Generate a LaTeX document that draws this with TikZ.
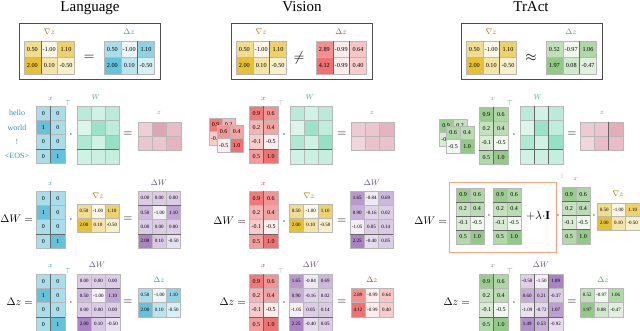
\documentclass[tikz,border=0pt]{standalone}
\usepackage{amsmath,amssymb}
\usepackage{fontspec}
\setmainfont{Liberation Serif}
\usepackage{xcolor}

\definecolor{gradC}{RGB}{229,190,46}
\definecolor{langC}{RGB}{93,191,216}
\definecolor{visC}{RGB}{238,106,106}
\definecolor{actC}{RGB}{140,198,128}
\definecolor{wC}{RGB}{125,218,185}
\definecolor{zC}{RGB}{217,138,156}
\definecolor{dwC}{RGB}{165,125,192}
\definecolor{boxC}{RGB}{240,165,125}
\definecolor{gradL}{RGB}{160,130,30}
\definecolor{langL}{RGB}{50,150,180}
\definecolor{visL}{RGB}{170,60,60}
\definecolor{actL}{RGB}{100,150,105}
\definecolor{wL}{RGB}{60,170,140}
\definecolor{zL}{RGB}{150,125,130}
\definecolor{dwL}{RGB}{100,80,120}

\tikzset{
  cell/.style={draw=white!72!black, line width=0.3pt},
  cellnum/.style={inner sep=0pt, font=\cellfont},
  sep/.style={draw=black!60, line width=0.6pt},
  frame/.style={draw=black!70, line width=0.8pt},
  obox/.style={draw=boxC, line width=0.9pt},
  title/.style={inner sep=0pt, anchor=base, font=\fontsize{15}{18}\selectfont},
  lbl/.style={inner sep=0pt, font=\fontsize{7}{8}\selectfont},
  biglbl/.style={inner sep=0pt, font=\fontsize{8.5}{10}\selectfont},
  op/.style={inner sep=0pt, font=\fontsize{12}{14}\selectfont},
  lhs/.style={inner sep=0pt, anchor=east, font=\fontsize{11}{13}\selectfont},
  bigop/.style={inner sep=0pt, font=\fontsize{15}{18}\selectfont},
  word/.style={inner sep=0pt, text=langL, font=\fontsize{8}{9}\selectfont}
}

% the numbers
\def\gradz{{0.50,-1.00,1.10},{2.00,0.10,-0.50}}
\def\visdz{{2.89,-0.99,0.64},{4.12,-0.99,0.40}}
\def\actdz{{0.52,-0.97,1.06},{1.97,0.08,-0.47}}
\def\langx{{0,0},{1,0},{0,0},{0,1}}
\def\visx{{0.9,0.6},{0.2,0.4},{-0.1,-0.5},{0.5,1.0}}
\def\patchA{{0.9,0.2},{-0.1,0.5}}
\def\patchB{{0.6,0.4},{-0.5,1.0}}
\def\langW{{0.5,0.3,0.5},{0.2,0.8,0.45},{0.6,0.3,0.85},{0.3,0.35,0.4}}
\def\langz{{0.35,0.8,0.55},{0.45,0.45,0.65}}
\def\visz{{0.4,0.45,0.65},{0.3,0.5,0.5}}
\def\actz{{0.4,0.45,0.7},{0.3,0.55,0.55}}
\def\langdW{{0.00,0.00,0.00},{0.50,-1.00,1.10},{0.00,0.00,0.00},{2.00,0.10,-0.50}}
\def\visdW{{1.65,-0.84,0.69},{0.90,-0.16,0.02},{-1.05,0.05,0.14},{2.25,-0.40,0.05}}
\def\actdW{{-0.50,-1.50,1.89},{0.60,0.21,-0.37},{-1.09,-0.72,1.07},{1.49,0.53,-0.92}}

\newcounter{matno}
\newif\ifcellnum
\def\cellfont{\fontsize{5}{6}\selectfont}
% #1 top left, #2 cell width, #3 cell height, #4 colour, #5 lowest, #6 highest, #7 rows, #8 separators
\newcommand{\drawmat}[8]{%
  \stepcounter{matno}%
  \begin{scope}[shift={(#1)}]
    \def\cw{#2}\def\ch{#3}%
    \foreach \row [count=\i] in #7 {
      \foreach \v [count=\j] in \row {
        \pgfmathtruncatemacro\pct{12+83*(\v-(#5))/((#6)-(#5))}
        \path[cell, fill=#4!\pct!white] ({(\j-1)*\cw},{(\i-1)*\ch}) rectangle ++(\cw,\ch);
        \ifcellnum
          \node[cellnum] (m\thematno-\i-\j) at ({(\j-0.5)*\cw},{(\i-0.5)*\ch}) {\v};
        \fi
      }
    }
    #8
  \end{scope}}
\newcommand{\vsep}[2]{\draw[sep] ({#1*\cw},0) -- ({#1*\cw},{#2*\ch});}
\newcommand{\hsep}[2]{\draw[sep] (0,{#1*\ch}) -- ({#2*\cw},{#1*\ch});}

\begin{document}
\begin{tikzpicture}[x=1pt,y=-1pt]
\useasboundingbox (0,0) rectangle (640,331);

% titles
\node[title] (tlang) at (90,12) {Language};
\node[title] (tvis) at (302,12) {Vision};
\node[title] (tact) at (531,12) {TrAct};

% top boxes
\draw[frame] (19,23) rectangle (160,79);
\draw[frame] (231,23) rectangle (372,79);
\draw[frame] (461,23) rectangle (602,79);
\cellnumtrue
\def\cellfont{\fontsize{6.2}{7}\selectfont}
\drawmat{24,41}{16.8}{16.5}{gradC}{-1}{2}{\gradz}{\vsep{1}{2}}
\drawmat{104,41}{16.8}{16.5}{langC}{-1}{2}{\gradz}{\vsep{2}{2}}
\drawmat{236,41}{16.8}{16.5}{gradC}{-1}{2}{\gradz}{\vsep{2}{2}}
\drawmat{316,41}{16.8}{16.5}{visC}{-0.99}{4.12}{\visdz}{\vsep{1}{2}\vsep{2}{2}}
\drawmat{466,41}{16.8}{16.5}{gradC}{-1}{2}{\gradz}{\vsep{2}{2}}
\drawmat{546,41}{16.8}{16.5}{actC}{-0.97}{1.97}{\actdz}{\vsep{2}{2}}
\node[biglbl, text=gradL] (lgz0) at (49.5,32) {$\nabla z$};
\node[biglbl, text=langL] (ldz0) at (129,32) {$\Delta z$};
\node[biglbl, text=gradL] (vgz0) at (261,32) {$\nabla z$};
\node[biglbl, text=visL] (vdz0) at (341,32) {$\Delta z$};
\node[biglbl, text=gradL] (agz0) at (491,32) {$\nabla z$};
\node[biglbl, text=actL] (adz0) at (571,32) {$\Delta z$};
\node[bigop] (leq0) at (89,58) {$=$};
\node[bigop] (vneq0) at (299,58) {$\neq$};
\node[bigop] (aeq0) at (531,58) {$\approx$};

% forward pass, language
\foreach \w [count=\k] in {hello,world,!,<EOS>}
  \node[word] (w\k) at (17,{106+14.3*(\k-0.5)}) {\w};
\def\cellfont{\fontsize{6}{7}\selectfont}
\drawmat{36,106}{14.5}{14.3}{langC}{-1}{1}{\langx}{\vsep{1}{4}\hsep{3}{2}}
\node[lbl, text=langL] (lx1) at (50.5,99) {$x$};
\node[lbl, text=langL] (lt1) at (68,103) {$\top$};
\node[op] (ld1) at (71,135) {$\cdot$};
\cellnumfalse
\drawmat{77,106}{14}{14.5}{wC}{0}{1}{\langW}{\hsep{3}{3}}
\node[lbl, text=wL] (lw1) at (96,97) {$W$};
\node[op] (le1) at (128,134) {$=$};
\drawmat{138,122}{14.3}{14}{zC}{0}{1}{\langz}{}
\node[lbl, text=zL] (lz1) at (159,113) {$z$};
\cellnumtrue

% forward pass, vision
\drawmat{209,118}{13}{13.5}{visC}{-0.5}{1}{\patchA}{}
\drawmat{217,125}{13}{13.5}{visC}{-0.5}{1}{\patchB}{}
\drawmat{249,106}{14.5}{14.3}{visC}{-0.5}{1}{\visx}{\vsep{1}{4}\hsep{3}{2}}
\node[lbl, text=visL] (vx1) at (263.5,99) {$x$};
\node[lbl, text=black!35] (vt1) at (281,103) {$\top$};
\node[op] (vd1) at (284,135) {$\cdot$};
\cellnumfalse
\drawmat{290,106}{14}{14.5}{wC}{0}{1}{\langW}{\hsep{3}{3}}
\node[lbl, text=wL] (vw1) at (310,97) {$W$};
\node[op] (ve1) at (342,134) {$=$};
\drawmat{351,122}{14.3}{14}{zC}{0}{1}{\visz}{}
\node[lbl, text=zL] (vz1) at (372,113) {$z$};
\cellnumtrue

% forward pass, TrAct
\drawmat{439,119}{14}{13.5}{actC}{-0.5}{1}{\patchA}{}
\drawmat{446,126}{14}{13.5}{actC}{-0.5}{1}{\patchB}{}
\drawmat{479,107}{14.5}{14.3}{actC}{-0.5}{1}{\visx}{\vsep{1}{4}\hsep{3}{2}}
\node[lbl, text=black!45] (ax1) at (493,99) {$x$};
\node[lbl, text=actL] (at1) at (510,103) {$\top$};
\node[op] (ad1) at (514,135) {$\cdot$};
\cellnumfalse
\drawmat{520,106}{14.3}{14.5}{wC}{0}{1}{\langW}{\vsep{1}{4}\vsep{2}{4}\hsep{3}{3}}
\node[lbl, text=wL] (aw1) at (538,97) {$W$};
\node[op] (ae1) at (572,134) {$=$};
\drawmat{580,122}{14.3}{14}{zC}{0}{1}{\actz}{\vsep{2}{2}}
\node[lbl, text=zL] (az1) at (602,113) {$z$};
\cellnumtrue

% weight update, language
\node[lhs] (ldw2) at (33,219) {$\Delta W\;{=}$};
\drawmat{36,191}{14.5}{14.3}{langC}{-1}{1}{\langx}{\vsep{1}{4}\hsep{3}{2}}
\node[lbl, text=langL] (lx2) at (50.5,184) {$x$};
\node[op] (ld2) at (71,220) {$\cdot$};
\def\cellfont{\fontsize{5}{6}\selectfont}
\drawmat{77,204}{14}{14}{gradC}{-1}{2}{\gradz}{}
\node[biglbl, text=gradL] (lg2) at (98,196) {$\nabla z$};
\node[op] (le2) at (128,219) {$=$};
\drawmat{138,191}{14.2}{14.3}{dwC}{-1}{2}{\langdW}{\hsep{1}{3}\hsep{3}{3}}
\node[biglbl, text=dwL] (lw2) at (159,183) {$\Delta W$};

% weight update, vision
\def\cellfont{\fontsize{6}{7}\selectfont}
\node[lhs] (vdw2) at (246,221) {$\Delta W\;{=}$};
\drawmat{249,191}{14.5}{14.3}{visC}{-0.5}{1}{\visx}{\vsep{1}{4}\hsep{3}{2}}
\node[lbl, text=visL] (vx2) at (263.5,184) {$x$};
\node[op] (vd2) at (284,222) {$\cdot$};
\def\cellfont{\fontsize{5}{6}\selectfont}
\drawmat{289,204}{14.5}{14}{gradC}{-1}{2}{\gradz}{}
\node[biglbl, text=gradL] (vg2) at (309,196) {$\nabla z$};
\node[op] (ve2) at (342,221) {$=$};
\drawmat{350,191}{14.3}{14.3}{dwC}{-1.05}{2.25}{\visdW}{\hsep{3}{3}}
\node[biglbl, text=dwL] (vw2) at (372,183) {$\Delta W$};

% weight update, TrAct
\def\cellfont{\fontsize{6}{7}\selectfont}
\node[lhs] (adw2) at (447,221) {$\Delta W\;{=}$};
\draw[obox] (449,182) rectangle (556,252);
\drawmat{456,188}{14}{14}{actC}{-0.5}{1}{\visx}{\hsep{1}{2}\hsep{2}{2}\hsep{3}{2}}
\node[op] (ad2) at (489,216) {$\cdot$};
\drawmat{493,188}{14}{14}{actC}{-0.5}{1}{\visx}{\hsep{1}{2}\hsep{2}{2}\hsep{3}{2}}
\node[lbl, text=black!30] (at2) at (525,185) {$\top$};
\node[op] (alam) at (538,216) {$+\lambda{\cdot}\mathbf{I}$};
\node[lbl, text=boxC] (ainv) at (562,176) {$1$};
\node[op] (ad3) at (558,216) {$\cdot$};
\drawmat{562,187}{14}{14.2}{actC}{-0.5}{1}{\visx}{\hsep{1}{2}\hsep{2}{2}\hsep{3}{2}}
\node[lbl, text=black!45] (ax2) at (576,179) {$x$};
\node[op] (ad4) at (594,216) {$\cdot$};
\def\cellfont{\fontsize{5}{6}\selectfont}
\drawmat{597,203}{14.3}{13.5}{gradC}{-1}{2}{\gradz}{}
\node[biglbl, text=gradL] (ag2) at (618,194) {$\nabla z$};

% new output, language
\def\cellfont{\fontsize{6}{7}\selectfont}
\node[lhs] (ldz3) at (33,302) {$\Delta z\;{=}$};
\drawmat{36,274}{14.5}{14.3}{langC}{-1}{1}{\langx}{\vsep{1}{4}\hsep{3}{2}}
\node[lbl, text=langL] (lx3) at (50.5,266) {$x$};
\node[lbl, text=langL] (lt3) at (68,271) {$\top$};
\node[op] (ld3) at (71,303) {$\cdot$};
\def\cellfont{\fontsize{5}{6}\selectfont}
\drawmat{77,274}{14.3}{14.3}{dwC}{-1}{2}{\langdW}{\hsep{1}{3}\hsep{3}{3}}
\node[biglbl, text=dwL] (lw3) at (97,265) {$\Delta W$};
\node[op] (le3) at (128,302) {$=$};
\drawmat{138,288}{14.2}{14.5}{langC}{-1}{2}{\gradz}{}
\node[biglbl, text=langL] (lz3) at (159,280) {$\Delta z$};

% new output, vision
\def\cellfont{\fontsize{6}{7}\selectfont}
\node[lhs] (vdz3) at (246,302) {$\Delta z\;{=}$};
\drawmat{249,274}{14.5}{14.3}{visC}{-0.5}{1}{\visx}{\vsep{1}{4}\hsep{3}{2}}
\node[lbl, text=visL] (vx3) at (263.5,266) {$x$};
\node[lbl, text=black!35] (vt3) at (281,271) {$\top$};
\node[op] (vd3) at (284,303) {$\cdot$};
\def\cellfont{\fontsize{5}{6}\selectfont}
\drawmat{289,274}{14.5}{14.3}{dwC}{-1.05}{2.25}{\visdW}{\hsep{3}{3}}
\node[biglbl, text=dwL] (vw3) at (311,265) {$\Delta W$};
\node[op] (ve3) at (342,302) {$=$};
\drawmat{351,288}{14.2}{14.5}{visC}{-0.99}{4.12}{\visdz}{}
\node[biglbl, text=visL] (vz3) at (372,280) {$\Delta z$};

% new output, TrAct
\def\cellfont{\fontsize{6}{7}\selectfont}
\node[lhs] (adz3) at (470,302) {$\Delta z\;{=}$};
\drawmat{479,274}{14.5}{14.3}{actC}{-0.5}{1}{\visx}{\vsep{1}{4}\hsep{3}{2}}
\node[lbl, text=black!45] (ax3) at (493,266) {$x$};
\node[lbl, text=actL] (at3) at (510,271) {$\top$};
\node[op] (ad5) at (514,303) {$\cdot$};
\def\cellfont{\fontsize{5}{6}\selectfont}
\drawmat{520,274}{14.3}{14.3}{dwC}{-1.5}{1.89}{\actdW}{\vsep{1}{4}\vsep{2}{4}\hsep{3}{3}}
\node[biglbl, text=dwL] (aw3) at (541,265) {$\Delta W$};
\node[op] (ae3) at (572,302) {$=$};
\drawmat{580,288}{14.3}{14.5}{actC}{-0.97}{1.97}{\actdz}{}
\node[biglbl, text=actL] (az3) at (603,280) {$\Delta z$};

\end{tikzpicture}
\end{document}
